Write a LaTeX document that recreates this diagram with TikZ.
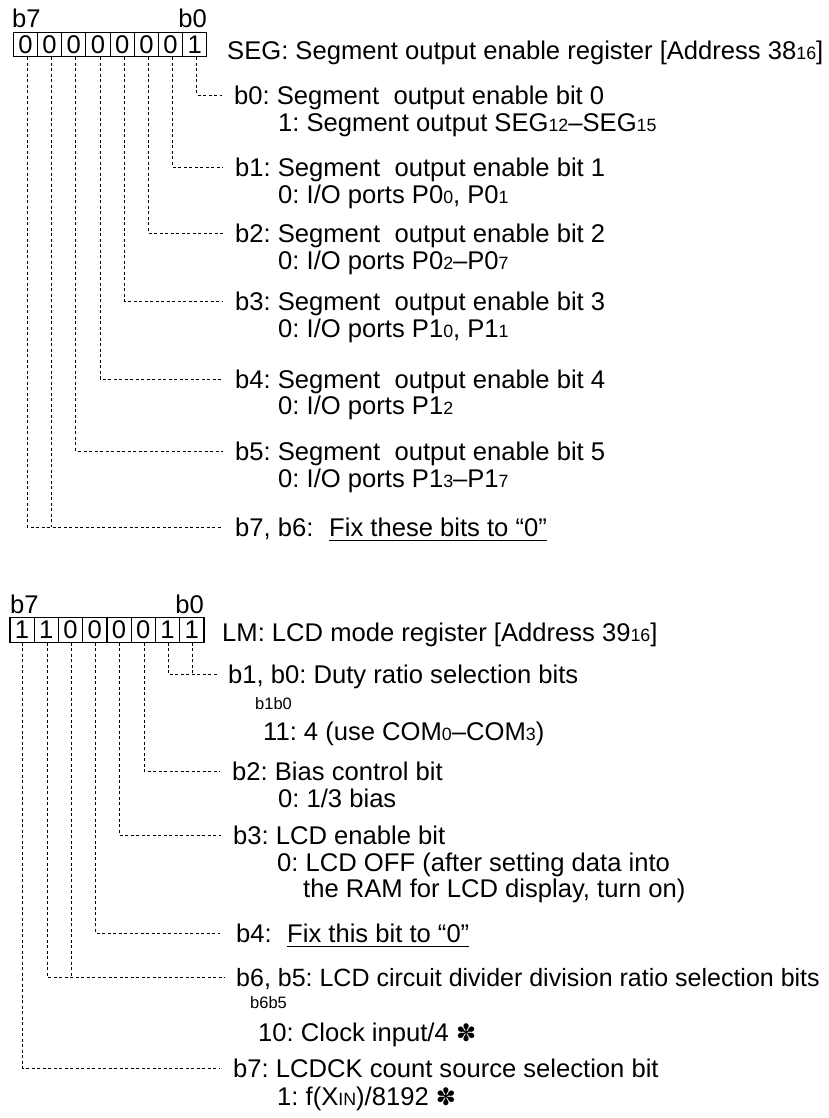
\documentclass[tikz,border=0pt]{standalone}
\usepackage{fontspec}
\setmainfont{Liberation Sans}
\newfontfamily\dvfont{DejaVu Sans}
\frenchspacing
\newcommand{\sbs}[1]{{\fontsize{17.8}{17.8}\selectfont #1}}
\newcommand{\astk}{{\dvfont\fontsize{24}{24}\selectfont ✽}}
\begin{document}
\begin{tikzpicture}[x=1pt,y=-1pt,
  every node/.style={font=\fontsize{25.6}{30}\selectfont},
  cell/.style={draw, line width=1.1pt, minimum width=24.2pt, minimum height=24.5pt, inner sep=0pt},
  txt/.style={anchor=west, inner sep=0pt, text height=18.3pt, text depth=0pt},
  smalltxt/.style={anchor=west, inner sep=0pt, text height=11.8pt, text depth=0pt, font=\fontsize{16.5}{16.5}\selectfont},
  bitlbl/.style={inner sep=0pt},
  dsh/.style={line width=0.7pt, dash pattern=on 3pt off 2.5pt},
  uline/.style={line width=0.8pt}]
\useasboundingbox (0,0) rectangle (829,1118);

% ---------- SEG register ----------
\node[bitlbl, anchor=base west] (sb7) at (12,28) {b7};
\node[bitlbl, anchor=base east] (sb0) at (207,28) {b0};
\foreach \i/\v in {7/0,6/0,5/0,4/0,3/0,2/0,1/0,0/1}
  \node[cell] (s\i) at ({25.4+24.2*(7-\i)},44.5) {\v};
\node[txt] (stitle) at (227,50) {SEG: Segment output enable register [Address 38\sbs{16}]};

\node[txt] (tb0) at (234,95) {b0: Segment\ \ output enable bit 0};
\node[txt] (tb0a) at (278,122) {1: Segment output SEG\sbs{12}–SEG\sbs{15}};
\node[txt] (tb1) at (235,167) {b1: Segment\ \ output enable bit 1};
\node[txt] (tb1a) at (278,194) {0: I/O ports P0\sbs{0}, P0\sbs{1}};
\node[txt] (tb2) at (235,233) {b2: Segment\ \ output enable bit 2};
\node[txt] (tb2a) at (278,260) {0: I/O ports P0\sbs{2}–P0\sbs{7}};
\node[txt] (tb3) at (235,301) {b3: Segment\ \ output enable bit 3};
\node[txt] (tb3a) at (278,328) {0: I/O ports P1\sbs{0}, P1\sbs{1}};
\node[txt] (tb4) at (235,379) {b4: Segment\ \ output enable bit 4};
\node[txt] (tb4a) at (278,405) {0: I/O ports P1\sbs{2}};
\node[txt] (tb5) at (235,451) {b5: Segment\ \ output enable bit 5};
\node[txt] (tb5a) at (278,478) {0: I/O ports P1\sbs{3}–P1\sbs{7}};
\node[txt] (tb76) at (235,527) {b7, b6:};
\node[txt] (tfix1) at (329,527) {Fix these bits to “0”};
\draw[uline] ([yshift=-4pt]tfix1.south west) -- ([yshift=-4pt]tfix1.south east);

\foreach \i in {0,1,2,3,4,5}
  \draw[dsh] ([xshift=2pt]s\i.south) |- ([xshift=-12pt]tb\i.west);
\draw[dsh] ([xshift=2pt]s7.south) |- ([xshift=-12pt]tb76.west);
\draw[dsh] ([xshift=2pt]s6.south) -- ([xshift=2pt]s6.south |- tb76.west);

% ---------- LM register ----------
\node[bitlbl, anchor=base west] (lb7) at (10,613) {b7};
\node[bitlbl, anchor=base east] (lb0) at (204,613) {b0};
\foreach \i/\v in {7/1,6/1,5/0,4/0,3/0,2/0,1/1,0/1}
  \node[cell] (m\i) at ({22.1+24.25*(7-\i)},630) {\v};
\node[txt] (ltitle) at (222,632) {LM: LCD mode register [Address 39\sbs{16}]};

\node[txt] (lb10) at (228,674) {b1, b0: Duty ratio selection bits};
\node[smalltxt] (lb10s) at (255,704) {b1b0};
\node[txt] (lb10a) at (263,731) {11: 4 (use COM\sbs{0}–COM\sbs{3})};
\node[txt] (lb2) at (232,771) {b2: Bias control bit};
\node[txt] (lb2a) at (278,798) {0: 1/3 bias};
\node[txt] (lb3) at (233,835) {b3: LCD enable bit};
\node[txt] (lb3a) at (277,862) {0: LCD OFF (after setting data into};
\node[txt] (lb3b) at (303,888) {the RAM for LCD display, turn on)};
\node[txt] (lb4) at (236,933) {b4:};
\node[txt] (tfix2) at (287,933) {Fix this bit to “0”};
\draw[uline] ([yshift=-4pt]tfix2.south west) -- ([yshift=-4pt]tfix2.south east);
\node[txt, font=\fontsize{25}{30}\selectfont] (lb65) at (236,977) {b6, b5: LCD circuit divider division ratio selection bits};
\node[smalltxt] (lb65s) at (250,1003) {b6b5};
\node[txt] (lb65a) at (258,1032) {10: Clock input/4 \astk};
\node[txt] (lb7t) at (233,1068) {b7: LCDCK count source selection bit};
\node[txt] (lb7a) at (277,1096) {1: f(X\sbs{IN})/8192 \astk};

\draw[dsh] ([xshift=0.5pt]m1.south) |- ([xshift=-11pt]lb10.west);
\draw[dsh] ([xshift=0.5pt]m0.south) -- ([xshift=0.5pt]m0.south |- lb10.west);
\draw[dsh] ([xshift=0.5pt]m2.south) |- ([xshift=-12pt]lb2.west);
\draw[dsh] ([xshift=0.5pt]m3.south) |- ([xshift=-12pt]lb3.west);
\draw[dsh] ([xshift=0.5pt]m4.south) |- ([xshift=-16pt]lb4.west);
\draw[dsh] ([xshift=0.5pt]m6.south) |- ([xshift=-11pt]lb65.west);
\draw[dsh] ([xshift=0.5pt]m5.south) -- ([xshift=0.5pt]m5.south |- lb65.west);
\draw[dsh] ([xshift=0.5pt]m7.south) |- ([xshift=-13pt]lb7t.west);
\end{tikzpicture}
\end{document}
